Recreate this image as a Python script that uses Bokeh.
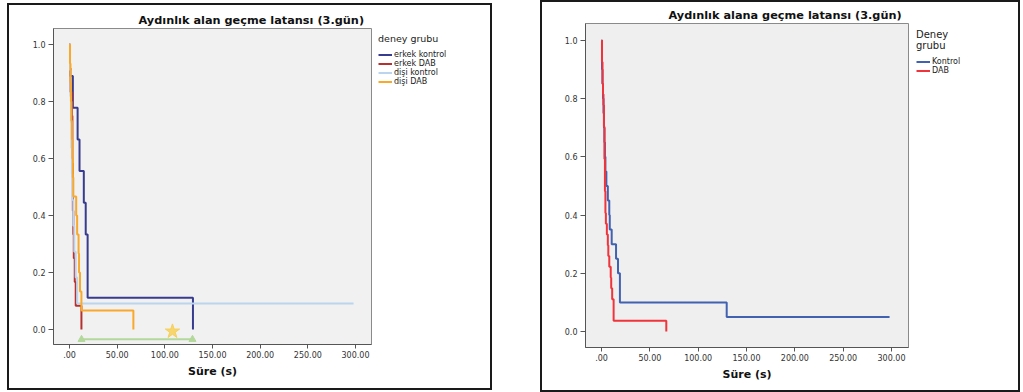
from bokeh.plotting import figure
from bokeh.models import Range1d, FixedTicker, Legend, LegendItem, Spacer
from bokeh.layouts import row, column
from bokeh.embed import file_html
from bokeh.resources import INLINE

# ---------------- data (survival times in seconds, 1 = event, 0 = censored) -------------
erkek_kontrol_sure = [0.5, 3.5, 8.5, 10.5, 15.0, 17.0, 19.0, 19.0, 129.5]
erkek_kontrol_olay = [1, 1, 1, 1, 1, 1, 1, 1, 1]
erkek_dab_sure = [0.5, 1.0, 2.5, 3.0, 3.0, 3.5, 3.5, 4.0, 4.5, 5.5, 6.5, 12.5]
erkek_dab_olay = [1, 1, 1, 1, 1, 1, 1, 1, 1, 1, 1, 1]
disi_kontrol_sure = [0.5, 1.0, 1.5, 2.0, 2.5, 3.0, 4.0, 5.0, 6.5, 8.0, 298.0]
disi_kontrol_olay = [1, 1, 1, 1, 1, 1, 1, 1, 1, 1, 0]
disi_dab_sure = [0.5, 1.0, 1.5, 2.0, 2.5, 3.0, 3.5, 4.0, 7.0, 8.0, 9.5, 10.0, 11.0, 12.5, 67.0]
disi_dab_olay = [1, 1, 1, 1, 1, 1, 1, 1, 1, 1, 1, 1, 1, 1, 1]

# significance bracket and star (left chart)
anlamlilik_x = [12.6, 129.0]
anlamlilik_y = -0.035
yildiz_x = [108.0]
yildiz_y = [-0.007]

y_ticks = [0.0, 0.2, 0.4, 0.6, 0.8, 1.0]
y_tick_labels = ["0.0", "0.2", "0.4", "0.6", "0.8", "1.0"]
x_ticks = [0, 50, 100, 150, 200, 250, 300]
x_tick_labels = [".00", "50.00", "100.00", "150.00", "200.00", "250.00", "300.00"]

sol_baslik = "Aydınlık alan geçme latansı (3.gün)"
sag_baslik = "Aydınlık alana geçme latansı (3.gün)"
x_etiket = "Süre (s)"

FONT = "DejaVu Sans"


def kaplan_meier(times, events):
    pairs = sorted(zip(times, events))
    n = len(pairs)
    xs, ys, s = [0.0], [1.0], 1.0
    i = 0
    while i < n:
        t = pairs[i][0]
        d = 0
        j = i
        while j < n and pairs[j][0] == t:
            d += pairs[j][1]
            j += 1
        at_risk = n - i
        if d > 0:
            s *= (1.0 - d / at_risk)
            xs.append(t)
            ys.append(s)
        i = j
    last_t = pairs[-1][0]
    if xs[-1] < last_t:
        xs.append(last_t)
        ys.append(s)
    return xs, ys


def style_axes(p):
    p.xgrid.visible = False
    p.ygrid.visible = False
    p.xaxis.ticker = FixedTicker(ticks=x_ticks)
    p.yaxis.ticker = FixedTicker(ticks=y_ticks)
    p.xaxis.major_label_overrides = {t: l for t, l in zip(x_ticks, x_tick_labels)}
    p.yaxis.major_label_overrides = {t: l for t, l in zip(y_ticks, y_tick_labels)}
    for ax in (p.xaxis, p.yaxis):
        ax.minor_tick_line_color = None
        ax.major_tick_in = 0
        ax.axis_line_color = "#555555"
        ax.major_tick_line_color = "#555555"
        ax.major_label_text_font = FONT
        ax.major_label_text_font_size = "8px"
        ax.major_label_text_color = "#333333"
    p.xaxis.major_tick_out = 4
    p.yaxis.major_tick_out = 5
    p.xaxis.major_label_standoff = 2
    p.yaxis.major_label_standoff = 3
    p.xaxis.axis_label = x_etiket
    p.xaxis.axis_label_text_font = FONT
    p.xaxis.axis_label_text_font_style = "bold"
    p.xaxis.axis_label_text_font_size = "11px"
    p.xaxis.axis_label_text_color = "#111111"
    p.xaxis.axis_label_standoff = 4
    p.title.text_font = FONT
    p.title.text_font_style = "bold"
    p.title.text_font_size = "11.3px"
    p.title.text_color = "#111111"
    p.title.align = "left"
    p.title.standoff = 3


box_styles = {"outline": "2px solid #1a1a1a", "outline-offset": "-2px",
              "box-shadow": "inset 0 0 0 2px #1a1a1a"}


def legend_figure(width, height, top, bottom, curves, title, title_size, margin):
    # legend-only figure; its view range lies outside the data, so only the legend shows
    q = figure(width=width, height=height, x_range=Range1d(-1000, -999), y_range=Range1d(-1000, -999),
               output_backend="svg", toolbar_location=None,
               x_axis_location=None, y_axis_location=None,
               min_border_left=0, min_border_right=0, min_border_top=top, min_border_bottom=bottom,
               background_fill_color=None, border_fill_color=None, outline_line_color=None)
    q.xgrid.visible = False
    q.ygrid.visible = False
    items = []
    for name, xs, ys, c in curves:
        r = q.step(xs, ys, mode="after", line_color=c, line_width=2)
        items.append(LegendItem(label=name, renderers=[r]))
    leg = Legend(items=items, location="top_left", title=title,
                 title_text_font=FONT, title_text_font_size=title_size, title_text_color="#222222",
                 title_text_font_style="normal", title_standoff=6,
                 label_text_font=FONT, label_text_font_size="8px", label_text_color="#222222",
                 label_height=9, glyph_height=9, glyph_width=14, label_standoff=2, spacing=0,
                 padding=0, margin=margin, background_fill_alpha=0, border_line_alpha=0)
    q.add_layout(leg)
    return q


# ---------------- left chart -----------------
f1 = figure(width=366, height=387, x_range=Range1d(-16.8, 316.8), y_range=Range1d(-0.053, 1.056),
            output_backend="svg", toolbar_location=None,
            min_border_left=46, min_border_right=2, min_border_top=25, min_border_bottom=46,
            background_fill_color="#f1f1f1", border_fill_color=None,
            outline_line_color="#8a8a8a", title=sol_baslik)
style_axes(f1)
f1.title.offset = 85

sol_seriler = [
    ("erkek kontrol", erkek_kontrol_sure, erkek_kontrol_olay, "#383c8e"),
    ("erkek DAB", erkek_dab_sure, erkek_dab_olay, "#b5302e"),
    ("dişi kontrol", disi_kontrol_sure, disi_kontrol_olay, "#bcd5ee"),
    ("dişi DAB", disi_dab_sure, disi_dab_olay, "#f9a82a"),
]
sol_egriler = []
for name, t, e, c in sol_seriler:
    xs, ys = kaplan_meier(t, e)
    f1.step(xs, ys, mode="after", line_color=c, line_width=2)
    sol_egriler.append((name, xs, ys, c))

f1.line(anlamlilik_x, [anlamlilik_y] * len(anlamlilik_x), line_color="#b3d89b", line_width=2)
f1.scatter(anlamlilik_x, [anlamlilik_y] * len(anlamlilik_x), marker="triangle", size=7,
           fill_color="#b3d89b", line_color="#b3d89b")
f1.scatter(yildiz_x, yildiz_y, marker="star", size=15, fill_color="#f8d66d", line_color="#f5cf5a")

l1 = legend_figure(119, 387, 25, 46, sol_egriler, "deney grubu", "9.5px", 5)
panel1 = row(f1, l1, styles=box_styles)

# ---------------- right chart -----------------
f2 = figure(width=370, height=392, x_range=Range1d(-16.6, 317.6), y_range=Range1d(-0.055, 1.058),
            output_backend="svg", toolbar_location=None,
            min_border_left=45, min_border_right=2, min_border_top=23, min_border_bottom=45,
            background_fill_color="#efefef", border_fill_color=None,
            outline_line_color="#8a8a8a", title=sag_baslik)
style_axes(f2)
f2.title.offset = 83

sag_seriler = [
    ("Kontrol", erkek_kontrol_sure + disi_kontrol_sure, erkek_kontrol_olay + disi_kontrol_olay, "#4161b1"),
    ("DAB", erkek_dab_sure + disi_dab_sure, erkek_dab_olay + disi_dab_olay, "#f0343c"),
]
sag_egriler = []
for name, t, e, c in sag_seriler:
    xs, ys = kaplan_meier(t, e)
    f2.step(xs, ys, mode="after", line_color=c, line_width=2)
    sag_egriler.append((name, xs, ys, c))

l2 = legend_figure(110, 392, 23, 45, sag_egriler, "Deney\ngrubu", "10px", 6)
panel2 = row(f2, l2, styles=box_styles)

layout = row(Spacer(width=7), column(Spacer(height=3), panel1), Spacer(width=48), panel2)

open("out.html", "w").write(file_html(layout, INLINE))
